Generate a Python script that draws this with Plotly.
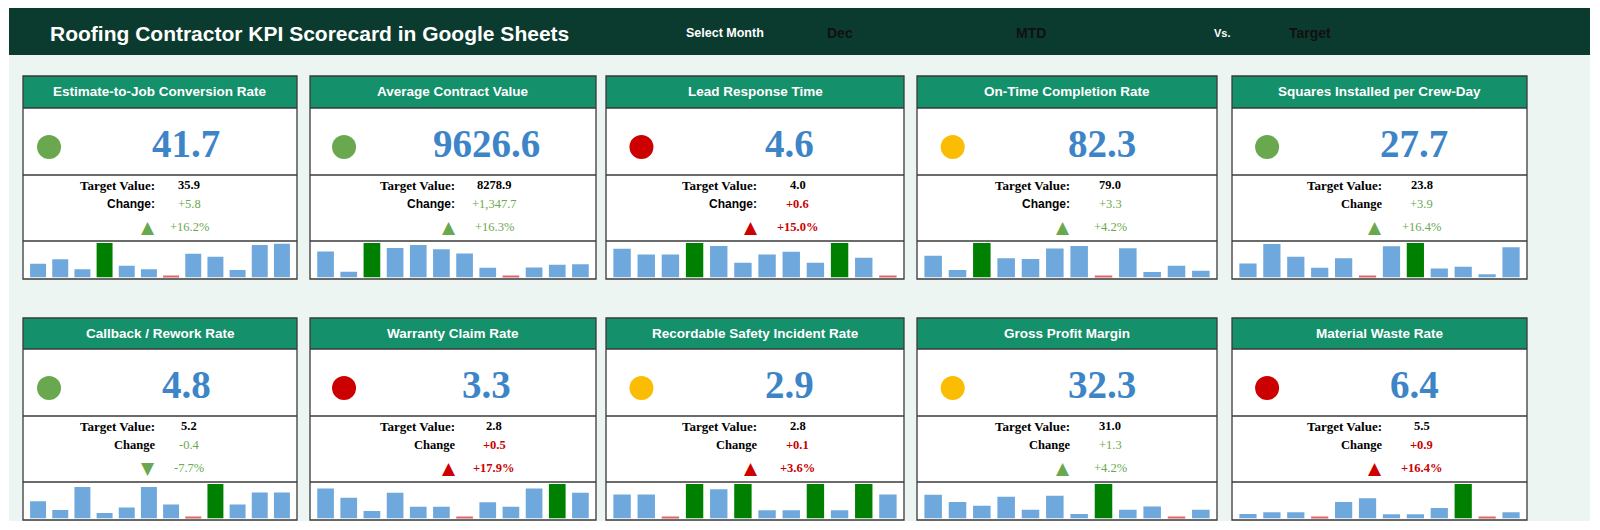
import plotly.graph_objects as go

# the page puts the figure 8px in from the top-left corner
OFF = 8
W, H = 1584, 514

# ---- data ----
kpi_names = ["Estimate-to-Job Conversion Rate", "Average Contract Value", "Lead Response Time",
             "On-Time Completion Rate", "Squares Installed per Crew-Day",
             "Callback / Rework Rate", "Warranty Claim Rate", "Recordable Safety Incident Rate",
             "Gross Profit Margin", "Material Waste Rate"]
mtd_values = [41.7, 9626.6, 4.6, 82.3, 27.7, 4.8, 3.3, 2.9, 32.3, 6.4]
target_values = [35.9, 8278.9, 4.0, 79.0, 23.8, 5.2, 2.8, 2.8, 31.0, 5.5]
higher_is_better = [True, True, False, True, True, False, False, False, True, False]
status = ["green", "green", "red", "yellow", "green", "green", "red", "yellow", "yellow", "red"]
change_labels = ["Change:", "Change:", "Change:", "Change:", "Change",
                 "Change", "Change", "Change", "Change", "Change"]
months = ["Jan", "Feb", "Mar", "Apr", "May", "Jun", "Jul", "Aug", "Sep", "Oct", "Nov", "Dec"]

spark_conversion = [36, 50, 19, 100, 30, 19, 0, 67, 58, 17, 94, 98]
spark_contract = [74, 12, 100, 85, 94, 81, 68, 24, 0, 25, 33, 35]
spark_response = [82, 65, 65, 100, 91, 39, 65, 73, 39, 100, 55, 0]
spark_ontime = [61, 17, 100, 53, 51, 83, 91, 0, 84, 11, 30, 15]
spark_squares = [37, 97, 58, 24, 53, 0, 90, 100, 22, 27, 4, 87]
spark_callback = [47, 20, 91, 11, 28, 91, 37, 0, 100, 37, 74, 74]
spark_warranty = [86, 58, 17, 73, 30, 30, 0, 44, 30, 86, 100, 73]
spark_safety = [68, 68, 0, 100, 84, 100, 19, 19, 100, 19, 100, 68]
spark_margin = [67, 45, 33, 61, 21, 64, 8, 100, 21, 31, 0, 21]
spark_waste = [8, 13, 13, 0, 45, 56, 7, 7, 26, 100, 0, 13]
sparks = [spark_conversion, spark_contract, spark_response, spark_ontime, spark_squares,
          spark_callback, spark_warranty, spark_safety, spark_margin, spark_waste]

# ---- style ----
DARK = "#0b3b2e"
LIGHT = "#edf5f2"
HEAD = "#14906b"
BORDER = "#3a3a3a"
BLUE = "#3d85c6"
GOOD = "#6aa84f"
BAD = "#cc0000"
status_col = {"green": "#6aa84f", "red": "#cc0000", "yellow": "#fbbc04"}
SANS = "Liberation Sans"
SERIF = "Liberation Serif"

col_x0 = [23, 310, 606, 917, 1232]
col_x1 = [297, 596, 904, 1217, 1527]
rows_y = [(76, 108, 175, 241, 279), (318, 349, 416, 482, 520)]
# inner positions as fraction of card width: circle, big value, label right, arrow, numbers
inner_first = (0.095, 0.595, 0.489, 0.456, 0.606)
inner_other = (0.119, 0.617, 0.515, 0.485, 0.644)


def px(x):
    return (x - OFF) / W


def py(y):
    return 1 - (y - OFF) / H


shapes = []
annotations = []


def rect(x0, y0, x1, y1, fill, line=None, lw=0, layer="below"):
    shapes.append(dict(type="rect", xref="paper", yref="paper", x0=px(x0), x1=px(x1),
                       y0=py(y1), y1=py(y0), fillcolor=fill, layer=layer,
                       line=dict(color=line or fill, width=lw)))


def hline(x0, x1, y):
    shapes.append(dict(type="line", xref="paper", yref="paper", x0=px(x0), x1=px(x1),
                       y0=py(y), y1=py(y), line=dict(color=BORDER, width=1.3)))


def text(x, y, s, size, color, family=SANS, xanchor="center"):
    annotations.append(dict(xref="paper", yref="paper", x=px(x), y=py(y), text=s,
                            showarrow=False, xanchor=xanchor, yanchor="middle",
                            font=dict(family=family, size=size, color=color)))


# background + title band
rect(9, 55, 1590, 521, LIGHT)
rect(9, 8, 1590, 55, DARK)
text(48, 33, "<b>Roofing Contractor KPI Scorecard in Google Sheets</b>", 21, "white", xanchor="left")
text(684, 33, "<b>Select Month</b>", 12.5, "white", xanchor="left")
text(825, 33, "<b>Dec</b>", 14, "#111111", xanchor="left")
text(1014, 33, "<b>MTD</b>", 14, "#111111", xanchor="left")
text(1212, 33, "<b>Vs.</b>", 11, "white", xanchor="left")
text(1287, 33, "<b>Target</b>", 14, "#111111", xanchor="left")

fig = go.Figure()
layout_axes = {}

for i, name in enumerate(kpi_names):
    r, c = divmod(i, 5)
    x0, x1 = col_x0[c], col_x1[c]
    w = x1 - x0
    top, head_b, val_b, det_b, bot = rows_y[r]
    f_circ, f_big, f_lab, f_tri, f_num = inner_first if c == 0 else inner_other

    rect(x0, top, x1, bot, "white")
    rect(x0, top, x1, head_b, HEAD)
    shapes.append(dict(type="rect", xref="paper", yref="paper", x0=px(x0), x1=px(x1),
                       y0=py(bot), y1=py(top), line=dict(color=BORDER, width=1.3)))
    for yy in (head_b, val_b, det_b):
        hline(x0, x1, yy)

    text((x0 + x1) / 2, (top + head_b) / 2, "<b>" + name + "</b>", 13.5, "white")

    # status dot + big value
    cx, cy = x0 + f_circ * w, val_b - 28
    shapes.append(dict(type="circle", xref="paper", yref="paper", x0=px(cx - 12), x1=px(cx + 12),
                       y0=py(cy + 12), y1=py(cy - 12), fillcolor=status_col[status[i]],
                       line=dict(width=0)))
    text(x0 + f_big * w, (head_b + val_b) / 2 + 2, "<b>%.1f</b>" % mtd_values[i], 39, BLUE, SERIF)

    # details
    chg = mtd_values[i] - target_values[i]
    pct = chg / target_values[i] * 100
    good = (chg > 0) == higher_is_better[i]
    col = GOOD if good else BAD
    lab_x, num_x = x0 + f_lab * w, x0 + f_num * w
    text(lab_x, val_b + 10, "<b>Target Value:</b>", 13, "black", SERIF, xanchor="right")
    text(num_x, val_b + 10, "<b>%.1f</b>" % target_values[i], 12.5, "black", SERIF)
    if change_labels[i].endswith(":"):
        text(lab_x, val_b + 29, "<b>" + change_labels[i] + "</b>", 12, "black", SANS, xanchor="right")
    else:
        text(lab_x, val_b + 29, "<b>" + change_labels[i] + "</b>", 12.5, "black", SERIF, xanchor="right")
    chg_s = "{:+,.1f}".format(chg)
    pct_s = "{:+.1f}%".format(pct)
    if not good:
        chg_s, pct_s = "<b>" + chg_s + "</b>", "<b>" + pct_s + "</b>"
    text(num_x, val_b + 29, chg_s, 12.5, col, SERIF)
    text(x0 + f_tri * w, val_b + 52, "▲" if chg > 0 else "▼", 17, col, "DejaVu Sans")
    text(num_x, val_b + 52, pct_s, 12.5, col, SERIF)

    # sparkline: bars start a little below the minimum so the low month shows as a sliver
    vals = sparks[i]
    hi, lo = max(vals), min(vals)
    colors = ["#008000" if v == hi else ("#e06666" if v == lo else "#6fa8dc") for v in vals]
    k = i + 1
    xa = "x" if k == 1 else "x%d" % k
    ya = "y" if k == 1 else "y%d" % k
    base = lo - 0.06 * (hi - lo)
    fig.add_trace(go.Bar(x=months, y=[v - base for v in vals], base=base,
                         marker=dict(color=colors, line=dict(width=0)),
                         xaxis=xa, yaxis=ya, showlegend=False, hoverinfo="skip"))
    layout_axes["xaxis" if k == 1 else "xaxis%d" % k] = dict(
        domain=[px(x0 + 4), px(x1 - 4)], anchor=ya, visible=False, fixedrange=True)
    layout_axes["yaxis" if k == 1 else "yaxis%d" % k] = dict(
        domain=[py(bot - 1.5), py(det_b + 2)], anchor=xa, visible=False, fixedrange=True,
        range=[base, hi])

fig.update_layout(width=W, height=H, margin=dict(l=0, r=0, t=0, b=0),
                  paper_bgcolor="white", plot_bgcolor="rgba(0,0,0,0)",
                  bargap=0.28, shapes=shapes, annotations=annotations, **layout_axes)

fig.write_html("out.html")
